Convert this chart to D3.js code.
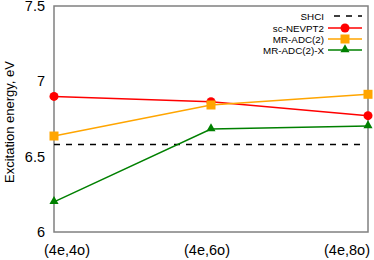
<!DOCTYPE html>
<html>
<head>
<meta charset="utf-8">
<script src="https://cdn.jsdelivr.net/npm/d3@7"></script>
<style>
  body { margin: 0; background: #fff; }
  text { font-family: "Liberation Sans", Arial, sans-serif; }
</style>
</head>
<body>
<svg id="chart" width="374" height="260"></svg>
<script>
var categories = ["(4e,4o)", "(4e,6o)", "(4e,8o)"];
var shci = 6.58;
var ncevpt2 = [6.90, 6.865, 6.772];
var mradc2 = [6.637, 6.843, 6.914];
var mradc2x = [6.20, 6.683, 6.703];
var yTicks = [6, 6.5, 7, 7.5];

var series = [
    {name: "sc-NEVPT2", values: ncevpt2, color: "#ff0000", marker: "circle"},
    {name: "MR-ADC(2)", values: mradc2, color: "#ffa500", marker: "square"},
    {name: "MR-ADC(2)-X", values: mradc2x, color: "#008000", marker: "triangle"}
];

var svg = d3.select("#chart");
var plotL = 54, plotR = 368, plotT = 6, plotB = 232;

var x = d3.scalePoint().domain(categories).range([plotL, plotR]);
// tick labels sit a bit right of their points, like the original
var xLab = d3.scalePoint().domain(categories).range([67, 347]);
var y = d3.scaleLinear().domain([6, 7.5]).range([plotB, plotT]);

// frame
svg.append("rect")
    .attr("x", plotL).attr("y", plotT)
    .attr("width", plotR - plotL).attr("height", plotB - plotT)
    .attr("fill", "none").attr("stroke", "#808080").attr("stroke-width", 1.5);

// tick labels
svg.selectAll(".ylab").data(yTicks).enter().append("text")
    .attr("x", plotL - 9).attr("y", function(d) { return y(d) + 5; })
    .attr("text-anchor", "end").attr("font-size", 14.5)
    .text(function(d) { return d; });

svg.selectAll(".xlab").data(categories).enter().append("text")
    .attr("x", function(d) { return xLab(d); }).attr("y", 255)
    .attr("text-anchor", "middle").attr("font-size", 14.5)
    .text(function(d) { return d; });

svg.append("text")
    .attr("transform", "translate(14,122) rotate(-90)")
    .attr("text-anchor", "middle").attr("font-size", 13)
    .text("Excitation energy, eV");

// SHCI reference
svg.append("line")
    .attr("x1", plotL).attr("x2", plotR - 6)
    .attr("y1", y(shci)).attr("y2", y(shci))
    .attr("stroke", "#000").attr("stroke-width", 1.5)
    .attr("stroke-dasharray", "6,6");

var line = d3.line()
    .x(function(d, i) { return x(categories[i]); })
    .y(function(d) { return y(d); });

function drawMarker(g, kind, cx, cy, color) {
    if (kind == "circle") {
        g.append("circle").attr("cx", cx).attr("cy", cy).attr("r", 4.5).attr("fill", color);
    } else if (kind == "square") {
        g.append("rect").attr("x", cx - 4.5).attr("y", cy - 4.5)
            .attr("width", 9).attr("height", 9).attr("fill", color);
    } else {
        g.append("path")
            .attr("d", d3.symbol().type(d3.symbolTriangle).size(36)())
            .attr("transform", "translate(" + cx + "," + (cy - 0.5) + ")")
            .attr("fill", color);
    }
}

series.forEach(function(s) {
    var g = svg.append("g");
    g.append("path").datum(s.values)
        .attr("d", line).attr("fill", "none")
        .attr("stroke", s.color).attr("stroke-width", 1.5);
    s.values.forEach(function(v, i) {
        drawMarker(g, s.marker, x(categories[i]), y(v), s.color);
    });
});

// legend
var legend = svg.append("g").attr("font-size", 9.8);
var lx = 324, lx1 = 328, lx2 = 362;
var rows = [16, 28, 39, 50];
legend.append("text").attr("x", lx).attr("y", rows[0] + 3.5)
    .attr("text-anchor", "end").text("SHCI");
legend.append("line").attr("x1", lx1).attr("x2", lx2)
    .attr("y1", rows[0]).attr("y2", rows[0])
    .attr("stroke", "#000").attr("stroke-width", 1.5).attr("stroke-dasharray", "6,6")
    .attr("stroke-dashoffset", -6);
series.forEach(function(s, i) {
    var ry = rows[i + 1];
    legend.append("text").attr("x", lx).attr("y", ry + 3.5)
        .attr("text-anchor", "end").text(s.name);
    legend.append("line").attr("x1", lx1).attr("x2", lx2)
        .attr("y1", ry).attr("y2", ry)
        .attr("stroke", s.color).attr("stroke-width", 1.5);
    drawMarker(legend, s.marker, (lx1 + lx2) / 2, ry, s.color);
});
</script>
</body>
</html>
